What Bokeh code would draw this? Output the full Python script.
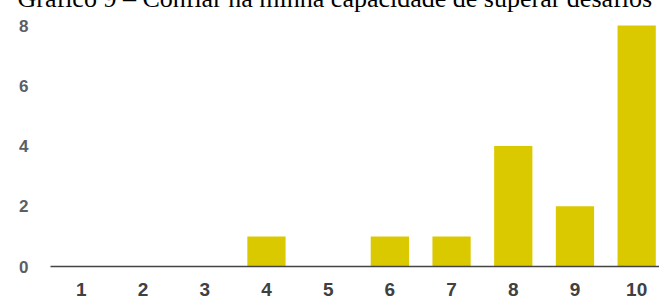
from bokeh.plotting import figure
from bokeh.models import Range1d, FixedTicker, Title, ColumnDataSource
from bokeh.embed import file_html
from bokeh.resources import INLINE

title_text = "Gráfico 9 – Confiar na minha capacidade de superar desafios"
categories = ["1", "2", "3", "4", "5", "6", "7", "8", "9", "10"]
counts = [0, 0, 0, 1, 0, 1, 1, 4, 2, 8]
y_ticks = [0, 2, 4, 6, 8]

positions = list(range(1, len(categories) + 1))
source = ColumnDataSource(data=dict(x=positions, top=counts, cat=categories))

p = figure(width=659, height=300, output_backend="svg", toolbar_location=None,
           x_range=Range1d(0.5, 10.37), y_range=Range1d(0, 8.83),
           min_border_left=50, min_border_right=0, min_border_top=0,
           min_border_bottom=34)
p.outline_line_color = None
p.background_fill_color = "white"
p.border_fill_color = "white"
p.xgrid.grid_line_color = None
p.ygrid.grid_line_color = None

p.vbar(x="x", top="top", width=0.62, bottom=0, source=source,
       fill_color="#DBC900", line_color=None)

p.xaxis.ticker = FixedTicker(ticks=positions)
p.xaxis.major_label_overrides = {pos: c for pos, c in zip(positions, categories)}
p.xaxis.axis_line_color = "#444444"
p.xaxis.axis_line_width = 1.5
p.xaxis.major_tick_line_color = None
p.xaxis.minor_tick_line_color = None
p.xaxis.major_tick_out = 0
p.xaxis.major_tick_in = 0
p.xaxis.major_label_standoff = 16
p.xaxis.major_label_text_font = "Liberation Sans"
p.xaxis.major_label_text_font_style = "bold"
p.xaxis.major_label_text_font_size = "19px"
p.xaxis.major_label_text_color = "#404040"

p.yaxis.ticker = FixedTicker(ticks=y_ticks)
p.yaxis.axis_line_color = None
p.yaxis.major_tick_line_color = None
p.yaxis.minor_tick_line_color = None
p.yaxis.major_tick_out = 0
p.yaxis.major_tick_in = 0
p.yaxis.major_label_standoff = 22
p.yaxis.major_label_text_font = "Liberation Sans"
p.yaxis.major_label_text_font_style = "bold"
p.yaxis.major_label_text_font_size = "17px"
p.yaxis.major_label_text_color = "#5a5e66"

title = Title(text=title_text, text_font="Liberation Serif", text_font_size="26px",
              text_font_style="normal", text_color="black", align="left",
              vertical_align="top", offset=-33, standoff=-34)
p.add_layout(title, "above")

open("out.html", "w").write(file_html(p, INLINE))
